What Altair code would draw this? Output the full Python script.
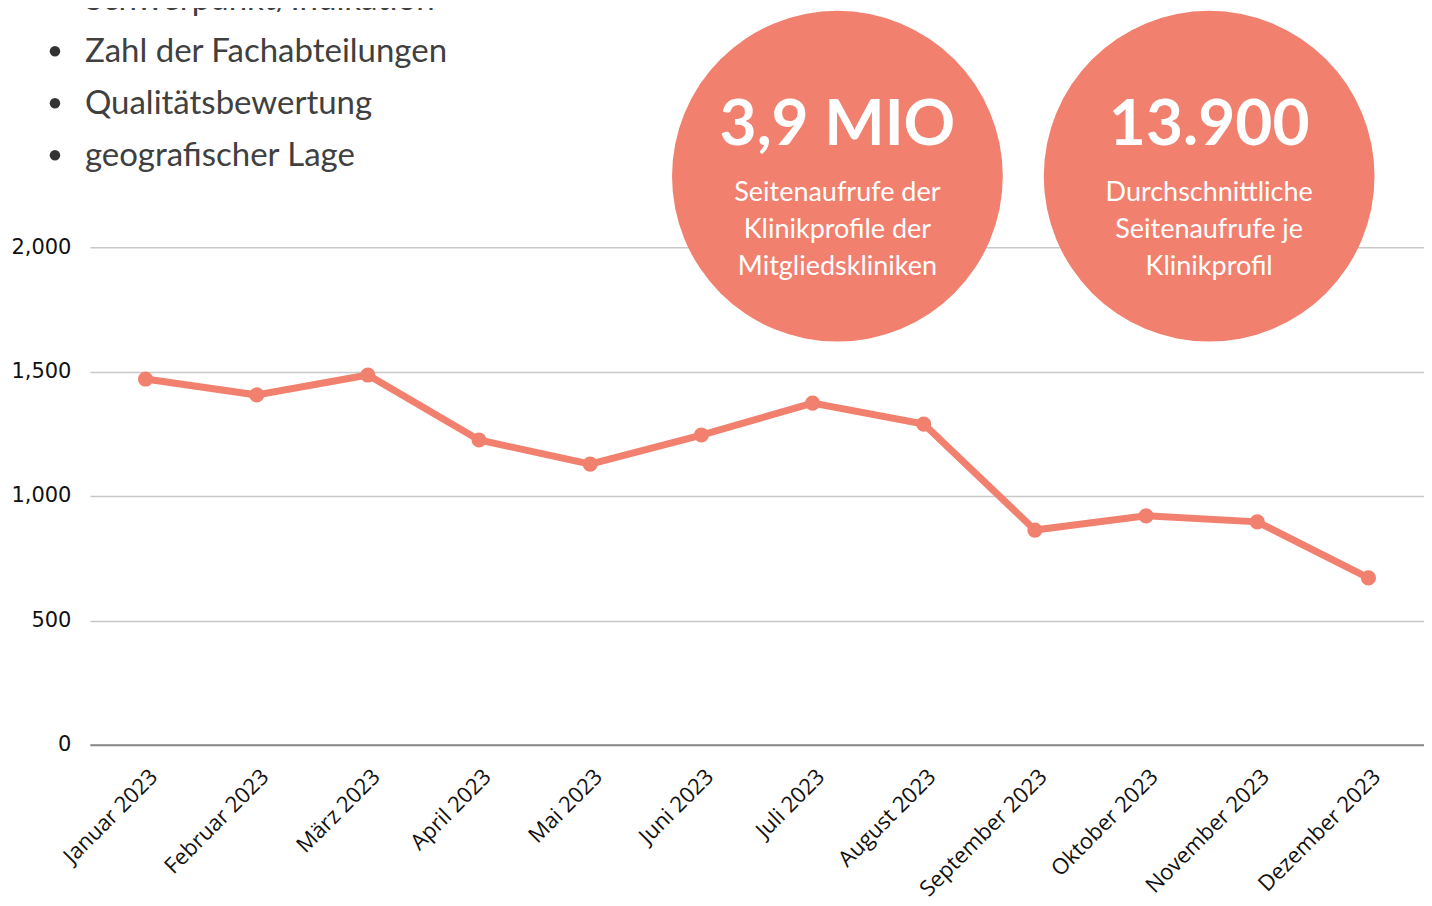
import altair as alt
import pandas as pd

months = ["Januar 2023", "Februar 2023", "März 2023", "April 2023", "Mai 2023", "Juni 2023",
          "Juli 2023", "August 2023", "September 2023", "Oktober 2023", "November 2023", "Dezember 2023"]
views = [1470, 1406, 1486, 1225, 1128, 1245, 1373, 1289, 863, 920, 896, 671]

bullets = ["Schwerpunkt/Indikation", "Zahl der Fachabteilungen", "Qualitätsbewertung", "geografischer Lage"]
circle1_big = "3,9 MIO"
circle1_lines = ["Seitenaufrufe der", "Klinikprofile  der", "Mitgliedskliniken"]
circle2_big = "13.900"
circle2_lines = ["Durchschnittliche", "Seitenaufrufe je", "Klinikprofil"]

SALMON = "#F2806E"
df = pd.DataFrame({"Monat": months, "Aufrufe": views})

x_enc = alt.X("Monat:N", sort=months, scale=alt.Scale(paddingInner=0, paddingOuter=0),
              axis=alt.Axis(title=None, labelAngle=-45, labelFont="Open Sans", labelFontSize=22,
                            labelColor="#111111", ticks=False, domain=True, domainColor="#888888",
                            domainWidth=2, labelPadding=28, labelOffset=8, grid=False,
                            labelAlign="right", labelBaseline="middle"))
y_enc = alt.Y("Aufrufe:Q", scale=alt.Scale(domain=[0, 2000]),
              axis=alt.Axis(title=None, values=[0, 500, 1000, 1500, 2000], format=",d",
                            labelFont="DejaVu Sans", labelFontSize=21, labelColor="#111111",
                            ticks=False, domain=False, gridColor="#C8C8C8", gridWidth=1.5,
                            labelPadding=19))

base = alt.Chart(df)
line = base.mark_line(color=SALMON, strokeWidth=7).encode(x=x_enc, y=y_enc)
pts = base.mark_point(color=SALMON, filled=True, opacity=1, size=230).encode(x=x_enc, y=y_enc)

layers = [line, pts]

# bullet list (partly above the visible area, as in the reference)
for i, b in enumerate(bullets):
    yb = -237 + 52 * i
    layers.append(alt.Chart(pd.DataFrame({"t": [b]})).mark_text(
        align="left", baseline="alphabetic", font="Lato", fontSize=33, color="#404040"
    ).encode(text="t:N", x=alt.value(-5), y=alt.value(yb)))
    layers.append(alt.Chart(pd.DataFrame({"t": [b]})).mark_point(
        shape="circle", filled=True, color="#333333", opacity=1, size=110
    ).encode(x=alt.value(-35), y=alt.value(yb - 11)))

# circles
for cx, big, lines in [(748, circle1_big, circle1_lines), (1120, circle2_big, circle2_lines)]:
    layers.append(alt.Chart(pd.DataFrame({"t": [big]})).mark_point(
        shape="circle", filled=True, color=SALMON, opacity=1, size=331 * 331
    ).encode(x=alt.value(cx), y=alt.value(-71)))
    layers.append(alt.Chart(pd.DataFrame({"t": [big]})).mark_text(
        align="center", baseline="alphabetic", font="Lato", fontWeight="bold", fontSize=64, color="white"
    ).encode(text="t:N", x=alt.value(cx), y=alt.value(-102)))
    for j, ln in enumerate(lines):
        layers.append(alt.Chart(pd.DataFrame({"t": [ln]})).mark_text(
            align="center", baseline="alphabetic", font="Lato", fontSize=27, color="white"
        ).encode(text="t:N", x=alt.value(cx), y=alt.value(-46 + 37 * j)))

chart = alt.layer(*layers).properties(
    width=1335, height=498,
    autosize=alt.AutoSizeParams(type="none"),
    padding={"left": 82, "top": 239, "right": 0, "bottom": 159},
).configure_view(stroke=None)

chart.save("out.html", embed_options={"renderer": "svg", "actions": False})
